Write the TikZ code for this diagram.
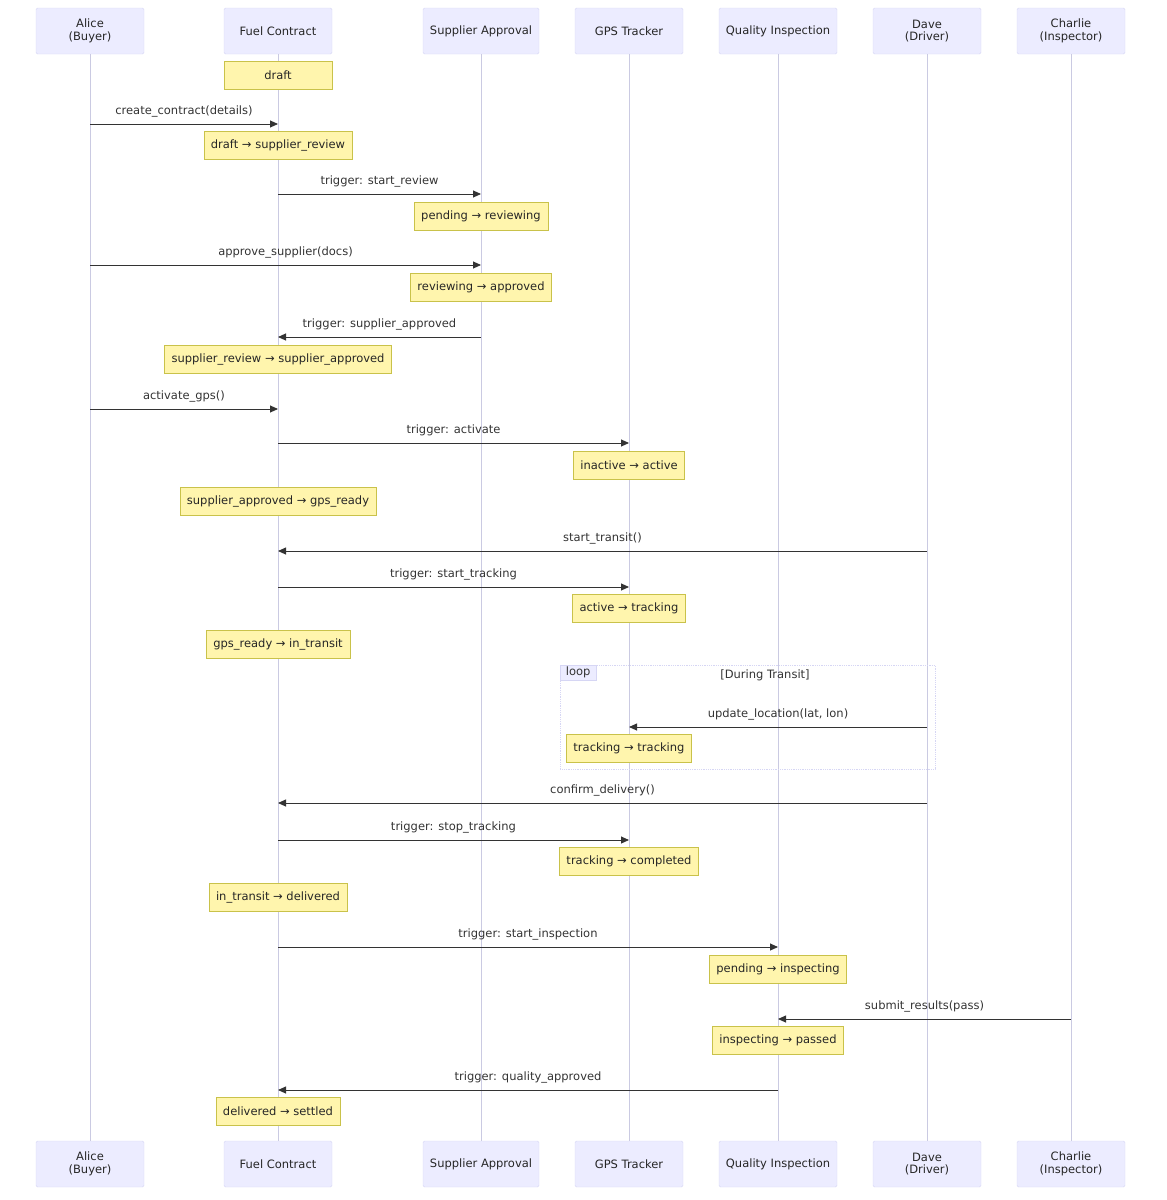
\documentclass[tikz,border=0pt]{standalone}
\usepackage{fontspec}
\setmainfont{DejaVu Sans}
\usepackage{tikz}
\usetikzlibrary{positioning}
\usetikzlibrary{arrows.meta}
\definecolor{actorfill}{HTML}{ECECFF}
\definecolor{actorborder}{HTML}{D6D6F4}
\definecolor{lifeline}{HTML}{CACAE2}
\definecolor{notefill}{HTML}{FFF5AD}
\definecolor{noteborder}{HTML}{C9C24A}
\definecolor{msgcolor}{HTML}{333333}
\begin{document}
\begin{tikzpicture}[x=1pt,y=-1pt,
    every node/.style={font=\fontsize{11.5}{12.5}\selectfont, text=msgcolor},
    actor/.style={draw=actorborder, fill=actorfill, rounded corners=1.5pt, minimum width=108pt, minimum height=46pt, align=center, inner sep=2pt, text=black!85},
    lifeln/.style={draw=lifeline, line width=1pt},
    note/.style={draw=noteborder, fill=notefill, minimum width=108pt, minimum height=28pt, inner xsep=7pt, inner ysep=2pt, text=black!85},
    msg/.style={draw=msgcolor, line width=0.9pt, -{Triangle[length=8pt,width=7pt]}},
    msglabel/.style={above=3pt, midway}]
        \useasboundingbox (0,0) rectangle (1167,1200);
        % actors, top row
        \node[actor] (aliceT) at (90,31) {Alice\\(Buyer)};
        \node[actor] (fuelT) at (278,31) {Fuel Contract};
        \node[actor, minimum width=116pt] (supT) at (481,31) {Supplier Approval};
        \node[actor] (gpsT) at (629,31) {GPS Tracker};
        \node[actor, minimum width=118pt] (qualT) at (778,31) {Quality Inspection};
        \node[actor] (daveT) at (927,31) {Dave\\(Driver)};
        \node[actor] (charT) at (1071,31) {Charlie\\(Inspector)};
        % actors, bottom row
        \node[actor] (aliceB) at (90,1164) {Alice\\(Buyer)};
        \node[actor] (fuelB) at (278,1164) {Fuel Contract};
        \node[actor, minimum width=116pt] (supB) at (481,1164) {Supplier Approval};
        \node[actor] (gpsB) at (629,1164) {GPS Tracker};
        \node[actor, minimum width=118pt] (qualB) at (778,1164) {Quality Inspection};
        \node[actor] (daveB) at (927,1164) {Dave\\(Driver)};
        \node[actor] (charB) at (1071,1164) {Charlie\\(Inspector)};
        % lifelines
        \draw[lifeln] (aliceT) -- (aliceB);
        \draw[lifeln] (fuelT) -- (fuelB);
        \draw[lifeln] (supT) -- (supB);
        \draw[lifeln] (gpsT) -- (gpsB);
        \draw[lifeln] (qualT) -- (qualB);
        \draw[lifeln] (daveT) -- (daveB);
        \draw[lifeln] (charT) -- (charB);
        % loop frame
        \draw[draw=actorborder, densely dotted, line width=0.8pt] (560,665) rectangle (935,769);
        \node[draw=actorborder, fill=actorfill, anchor=north west, inner sep=0pt, minimum width=36pt, minimum height=15pt] (loopT) at (560,665) {loop};
        \node (loopC) at (765,675) {[During Transit]};
        % messages and notes
        \node[note] (n1) at (278,75) {draft};
        \draw[msg] (aliceT |- 0,124) -- node[msglabel] {create\_contract(details)} (fuelT |- 0,124);
        \node[note] (n2) at (278,145) {draft → supplier\_review};
        \draw[msg] (fuelT |- 0,194) -- node[msglabel] {trigger: start\_review} (supT |- 0,194);
        \node[note] (n3) at (481,216) {pending → reviewing};
        \draw[msg] (aliceT |- 0,265) -- node[msglabel] {approve\_supplier(docs)} (supT |- 0,265);
        \node[note] (n4) at (481,287) {reviewing → approved};
        \draw[msg] (supT |- 0,337) -- node[msglabel] {trigger: supplier\_approved} (fuelT |- 0,337);
        \node[note] (n5) at (278,359) {supplier\_review → supplier\_approved};
        \draw[msg] (aliceT |- 0,409) -- node[msglabel] {activate\_gps()} (fuelT |- 0,409);
        \draw[msg] (fuelT |- 0,443) -- node[msglabel] {trigger: activate} (gpsT |- 0,443);
        \node[note] (n6) at (629,465) {inactive → active};
        \node[note] (n7) at (278,501) {supplier\_approved → gps\_ready};
        \draw[msg] (daveT |- 0,551) -- node[msglabel] {start\_transit()} (fuelT |- 0,551);
        \draw[msg] (fuelT |- 0,587) -- node[msglabel] {trigger: start\_tracking} (gpsT |- 0,587);
        \node[note] (n8) at (629,608) {active → tracking};
        \node[note] (n9) at (278,644) {gps\_ready → in\_transit};
        \draw[msg] (daveT |- 0,727) -- node[msglabel] {update\_location(lat, lon)} (gpsT |- 0,727);
        \node[note] (n10) at (629,748) {tracking → tracking};
        \draw[msg] (daveT |- 0,803) -- node[msglabel] {confirm\_delivery()} (fuelT |- 0,803);
        \draw[msg] (fuelT |- 0,840) -- node[msglabel] {trigger: stop\_tracking} (gpsT |- 0,840);
        \node[note] (n11) at (629,861) {tracking → completed};
        \node[note] (n12) at (278,897) {in\_transit → delivered};
        \draw[msg] (fuelT |- 0,947) -- node[msglabel] {trigger: start\_inspection} (qualT |- 0,947);
        \node[note] (n13) at (778,969) {pending → inspecting};
        \draw[msg] (charT |- 0,1019) -- node[msglabel] {submit\_results(pass)} (qualT |- 0,1019);
        \node[note] (n14) at (778,1040) {inspecting → passed};
        \draw[msg] (qualT |- 0,1090) -- node[msglabel] {trigger: quality\_approved} (fuelT |- 0,1090);
        \node[note] (n15) at (278,1111) {delivered → settled};
    \end{tikzpicture}
\end{document}
